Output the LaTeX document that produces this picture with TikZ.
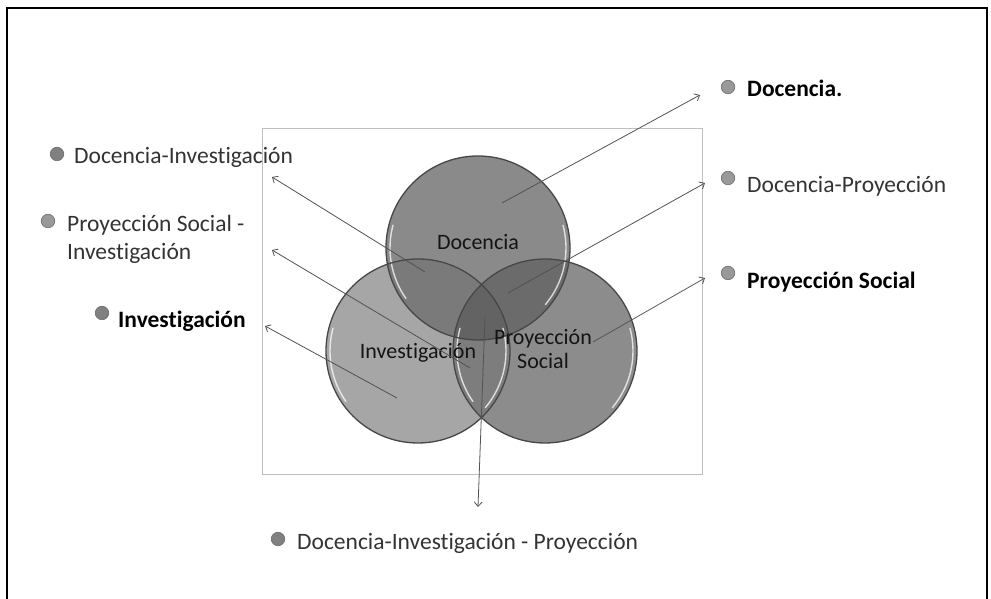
\documentclass[tikz,border=0pt]{standalone}
\usepackage{fontspec}
\setmainfont{Carlito}[Ligatures={NoCommon}]
\usetikzlibrary{arrows.meta}
\definecolor{docF}{gray}{0.54}
\definecolor{invF}{gray}{0.65}
\definecolor{proF}{gray}{0.55}
\definecolor{diF}{gray}{0.48}
\definecolor{dpF}{gray}{0.42}
\definecolor{ipF}{gray}{0.49}
\definecolor{dipF}{gray}{0.39}
\definecolor{bulA}{gray}{0.50}
\definecolor{bulB}{gray}{0.60}
\tikzset{
  venn/.style={circle, minimum size=184pt, inner sep=0pt},
  vennborder/.style={draw=black!72, line width=1.3pt},
  shine/.style={draw=white, line width=1.4pt, opacity=0.75, line cap=round},
  lbl/.style={anchor=base west, inner sep=0pt, font=\fontsize{23.5}{28}\selectfont, text=black!80},
  lblb/.style={lbl, font=\fontsize{23.5}{28}\selectfont\bfseries, text=black},
  inlbl/.style={inner sep=0pt, font=\fontsize{22}{24}\selectfont, text=black!92},
  bullet/.style={circle, minimum size=13.5pt, inner sep=0pt, draw=black!55, line width=0.7pt},
  conn/.style={draw=black!68, line width=0.8pt, -{Straight Barb[length=4.5pt,width=8pt]}}
}
\begin{document}
\begin{tikzpicture}[x=1pt,y=1pt]
\useasboundingbox (0,0) rectangle (991,599);
% outer frame
\draw[black, line width=1.6pt] (7,-5) -- (7,591) -- (987,591) -- (987,-5);
% inner rectangle
\draw[black!25, line width=0.8pt] (262,125) rectangle (702,471);
% circles
\node[venn, fill=docF] (D) at (478,351) {};
\node[venn, fill=invF] (I) at (418,248) {};
\node[venn, fill=proF] (P) at (545,248) {};
\begin{scope}
  \clip (478,351) circle[radius=92pt];
  \fill[diF] (418,248) circle[radius=92pt];
\end{scope}
\begin{scope}
  \clip (478,351) circle[radius=92pt];
  \fill[dpF] (545,248) circle[radius=92pt];
\end{scope}
\begin{scope}
  \clip (418,248) circle[radius=92pt];
  \fill[ipF] (545,248) circle[radius=92pt];
\end{scope}
\begin{scope}
  \clip (478,351) circle[radius=92pt];
  \clip (418,248) circle[radius=92pt];
  \fill[dipF] (545,248) circle[radius=92pt];
\end{scope}
% highlights
\foreach \c in {(478,351),(418,248),(545,248)}{
  \draw[shine] \c ++(165:88pt) arc[start angle=165, end angle=215, radius=88pt];
  \draw[shine] \c ++(-40:88pt) arc[start angle=-40, end angle=15, radius=88pt];
}
% borders
\draw[vennborder] (478,351) circle[radius=92pt];
\draw[vennborder] (418,248) circle[radius=92pt];
\draw[vennborder] (545,248) circle[radius=92pt];
% circle labels
\node[inlbl] (tD) at (478,357) {Docencia};
\node[inlbl] (tI) at (418,246) {Investigación};
\node[inlbl] (tP) at (543,247) {\begin{tabular}{@{}c@{}}Proyección\\Social\end{tabular}};
% outer labels
\node[bullet, fill=bulB] (b1) at (728,512) {};
\node[lblb] (l1) at (747,502) {Docencia.};
\node[bullet, fill=bulB] (b2) at (728,421) {};
\node[lbl] (l2) at (747,406) {Docencia-Proyección};
\node[bullet, fill=bulB] (b3) at (728,326) {};
\node[lblb] (l3) at (747,310) {Proyección Social};
\node[bullet, fill=bulA] (b4) at (57,445) {};
\node[lbl] (l4) at (74,435) {Docencia-Investigación};
\node[bullet, fill=bulB] (b5) at (48,378) {};
\node[lbl] (l5) at (67,367) {\begin{tabular}[t]{@{}l@{}}Proyección Social -\\Investigación\end{tabular}};
\node[bullet, fill=bulA] (b6) at (102,286) {};
\node[lblb] (l6) at (118,271) {Investigación};
\node[bullet, fill=bulA] (b7) at (278,60) {};
\node[lbl] (l7) at (297,49) {Docencia-Investigación - Proyección};
% connector ends
\coordinate (s1) at (502,396); \coordinate (e1) at (700,504);
\coordinate (s2) at (508,306); \coordinate (e2) at (705,416);
\coordinate (s3) at (593,257); \coordinate (e3) at (705,321);
\coordinate (s4) at (425,327); \coordinate (e4) at (272,422);
\coordinate (s5) at (470,231); \coordinate (e5) at (272,349);
\coordinate (s6) at (397,201); \coordinate (e6) at (265,273);
\coordinate (s7) at (485,281); \coordinate (e7) at (478,92);
\foreach \i in {1,...,7}{ \draw[conn] (s\i) -- (e\i); }
\end{tikzpicture}
\end{document}
